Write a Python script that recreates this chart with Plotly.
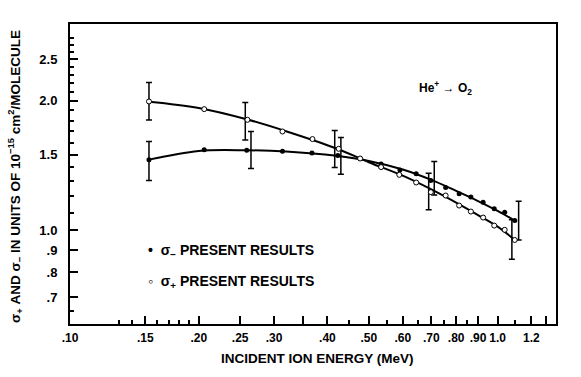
import plotly.graph_objects as go

# ---- data ----
minus_x = [0.153, 0.206, 0.259, 0.314, 0.368, 0.423, 0.477, 0.534, 0.591, 0.645,
           0.698, 0.756, 0.813, 0.866, 0.925, 0.982, 1.039, 1.097]
minus_y = [1.46, 1.54, 1.535, 1.528, 1.512, 1.493, 1.469, 1.427, 1.382, 1.353,
           1.306, 1.258, 1.216, 1.195, 1.163, 1.122, 1.102, 1.054]

plus_x = [0.153, 0.206, 0.260, 0.314, 0.369, 0.425, 0.477, 0.534, 0.589, 0.645,
          0.698, 0.756, 0.813, 0.866, 0.925, 0.982, 1.039, 1.097]
plus_y = [1.993, 1.913, 1.807, 1.697, 1.630, 1.547, 1.469, 1.403, 1.346, 1.292,
          1.227, 1.205, 1.142, 1.106, 1.071, 1.026, 1.003, 0.950]

# smooth fitted curves
curve_x = [0.153, 0.20, 0.26, 0.32, 0.42, 0.50, 0.60, 0.70, 0.80, 0.90, 1.00, 1.097]
curve_minus = [1.46, 1.53, 1.535, 1.525, 1.49, 1.45, 1.385, 1.31, 1.235, 1.17, 1.11, 1.054]
curve_plus = [1.99, 1.925, 1.81, 1.70, 1.55, 1.44, 1.34, 1.245, 1.16, 1.085, 1.02, 0.95]

# error bars (x position, low, high)
err_plus_x = [0.153, 0.257, 0.416, 0.69, 1.08]
err_plus_lo = [1.804, 1.621, 1.400, 1.116, 0.857]
err_plus_hi = [2.207, 1.982, 1.707, 1.358, 1.058]
err_minus_x = [0.153, 0.265, 0.43, 0.711, 1.12]
err_minus_lo = [1.306, 1.392, 1.351, 1.209, 0.950]
err_minus_hi = [1.609, 1.697, 1.643, 1.445, 1.169]

x_tickvals = [0.10, 0.15, 0.20, 0.25, 0.30, 0.40, 0.50, 0.60, 0.70, 0.80, 0.90, 1.0, 1.2]
x_ticktext = [".10", ".15", ".20", ".25", ".30", ".40", ".50", ".60", ".70", ".80", ".90", "1.0", "1.2"]
x_major_unlabeled = [0.35, 1.3]
x_minor = [0.13, 0.14, 0.16, 0.17, 0.18, 0.19, 0.45, 0.55, 0.65, 0.75, 0.85, 1.1]

y_tickvals = [0.7, 0.8, 0.9, 1.0, 1.5, 2.0, 2.5]
y_ticktext = [".7", ".8", ".9", "1.0", "1.5", "2.0", "2.5"]
y_minor = [0.65, 1.1, 1.2, 1.3, 1.4, 1.6, 1.7, 1.8, 1.9, 2.1, 2.2, 2.3, 2.4, 2.6, 2.7, 2.8]

FONT = "Liberation Sans"
XRANGE = [-1, 0.1366]
YRANGE = [-0.2175, 0.4795]

fig = go.Figure()

def add_err(xs, lo, hi):
    mid = [(a * b) ** 0.5 for a, b in zip(lo, hi)]
    fig.add_trace(go.Scatter(
        x=xs, y=mid, mode="markers", marker=dict(size=1, color="rgba(0,0,0,0)"),
        error_y=dict(type="data", symmetric=False,
                     array=[h - m for h, m in zip(hi, mid)],
                     arrayminus=[m - l for m, l in zip(mid, lo)],
                     color="black", thickness=1.5, width=3),
        showlegend=False, hoverinfo="skip"))

add_err(err_plus_x, err_plus_lo, err_plus_hi)
add_err(err_minus_x, err_minus_lo, err_minus_hi)

fig.add_trace(go.Scatter(x=curve_x, y=curve_minus, mode="lines", line=dict(color="black", width=2, shape="spline"),
                         showlegend=False, hoverinfo="skip"))
fig.add_trace(go.Scatter(x=curve_x, y=curve_plus, mode="lines", line=dict(color="black", width=2, shape="spline"),
                         showlegend=False, hoverinfo="skip"))

fig.add_trace(go.Scatter(x=minus_x, y=minus_y, mode="markers",
                         marker=dict(symbol="circle", size=5, color="black"),
                         name="σ− PRESENT RESULTS", showlegend=False))
fig.add_trace(go.Scatter(x=plus_x, y=plus_y, mode="markers",
                         marker=dict(symbol="circle", size=5, color="white", line=dict(color="black", width=1)),
                         name="σ+ PRESENT RESULTS", showlegend=False))

fig.update_xaxes(type="log", range=XRANGE,
                 tickmode="array", tickvals=x_tickvals, ticktext=x_ticktext, tickangle=0,
                 ticks="inside", ticklen=8, tickwidth=1.5, tickcolor="black",
                 minor=dict(tickmode="array", tickvals=x_minor, ticks="inside", ticklen=4,
                            tickwidth=1.5, tickcolor="black", showgrid=False),
                 showgrid=False, zeroline=False, showline=True, linecolor="black", linewidth=2,
                 mirror=True, tickfont=dict(family=FONT, size=12, color="black", weight="bold"),
                 ticklabelstandoff=2)
fig.update_yaxes(type="log", range=YRANGE,
                 tickmode="array", tickvals=y_tickvals, ticktext=y_ticktext,
                 ticks="inside", ticklen=8, tickwidth=1.5, tickcolor="black",
                 minor=dict(tickmode="array", tickvals=y_minor, ticks="inside", ticklen=4,
                            tickwidth=1.5, tickcolor="black", showgrid=False),
                 showgrid=False, zeroline=False, showline=True, linecolor="black", linewidth=2,
                 mirror=True, tickfont=dict(family=FONT, size=13, color="black", weight="bold"),
                 ticklabelstandoff=8)

# overlay axis for the two long unlabeled x ticks
fig.update_layout(xaxis2=dict(type="log", range=XRANGE, overlaying="x", side="bottom",
                              anchor="y", tickmode="array", tickvals=x_major_unlabeled,
                              ticks="inside", ticklen=8, tickwidth=1.5, tickcolor="black",
                              showticklabels=False, showgrid=False, zeroline=False,
                              showline=False))
fig.add_trace(go.Scatter(x=[0.35], y=[1.0], xaxis="x2", mode="markers",
                         marker=dict(size=1, color="rgba(0,0,0,0)"),
                         showlegend=False, hoverinfo="skip"))

title_font = dict(family=FONT, size=13.5, color="black", weight="bold")
annots = [
    dict(text="INCIDENT ION ENERGY (MeV)", xref="paper", yref="paper",
         x=0.51, y=-0.115, xanchor="center", yanchor="middle", showarrow=False,
         font=title_font),
    dict(text="σ<sub>+</sub> AND σ<sub>−</sub> IN UNITS OF 10<sup>−15</sup> cm<sup>2</sup>/MOLECULE",
         xref="paper", yref="paper", x=-0.113, y=0.49, xanchor="center", yanchor="middle",
         textangle=-90, showarrow=False, font=title_font),
    dict(text="He<sup>+</sup> → O<sub>2</sub>", xref="paper", yref="paper",
         x=0.715, y=0.787, xanchor="left", yanchor="middle", showarrow=False,
         font=dict(family=FONT, size=12, color="black", weight="bold")),
    dict(text="•  σ<sub>−</sub> PRESENT RESULTS", xref="paper", yref="paper",
         x=0.157, y=0.243, xanchor="left", yanchor="middle", showarrow=False,
         font=dict(family=FONT, size=14, color="black", weight="bold")),
    dict(text="◦  σ<sub>+</sub> PRESENT RESULTS", xref="paper", yref="paper",
         x=0.157, y=0.14, xanchor="left", yanchor="middle", showarrow=False,
         font=dict(family=FONT, size=14, color="black", weight="bold")),
]

fig.update_layout(width=581, height=377, margin=dict(l=70, r=25, t=24, b=53),
                  paper_bgcolor="white", plot_bgcolor="white", annotations=annots,
                  showlegend=False)

fig.write_html("out.html")
